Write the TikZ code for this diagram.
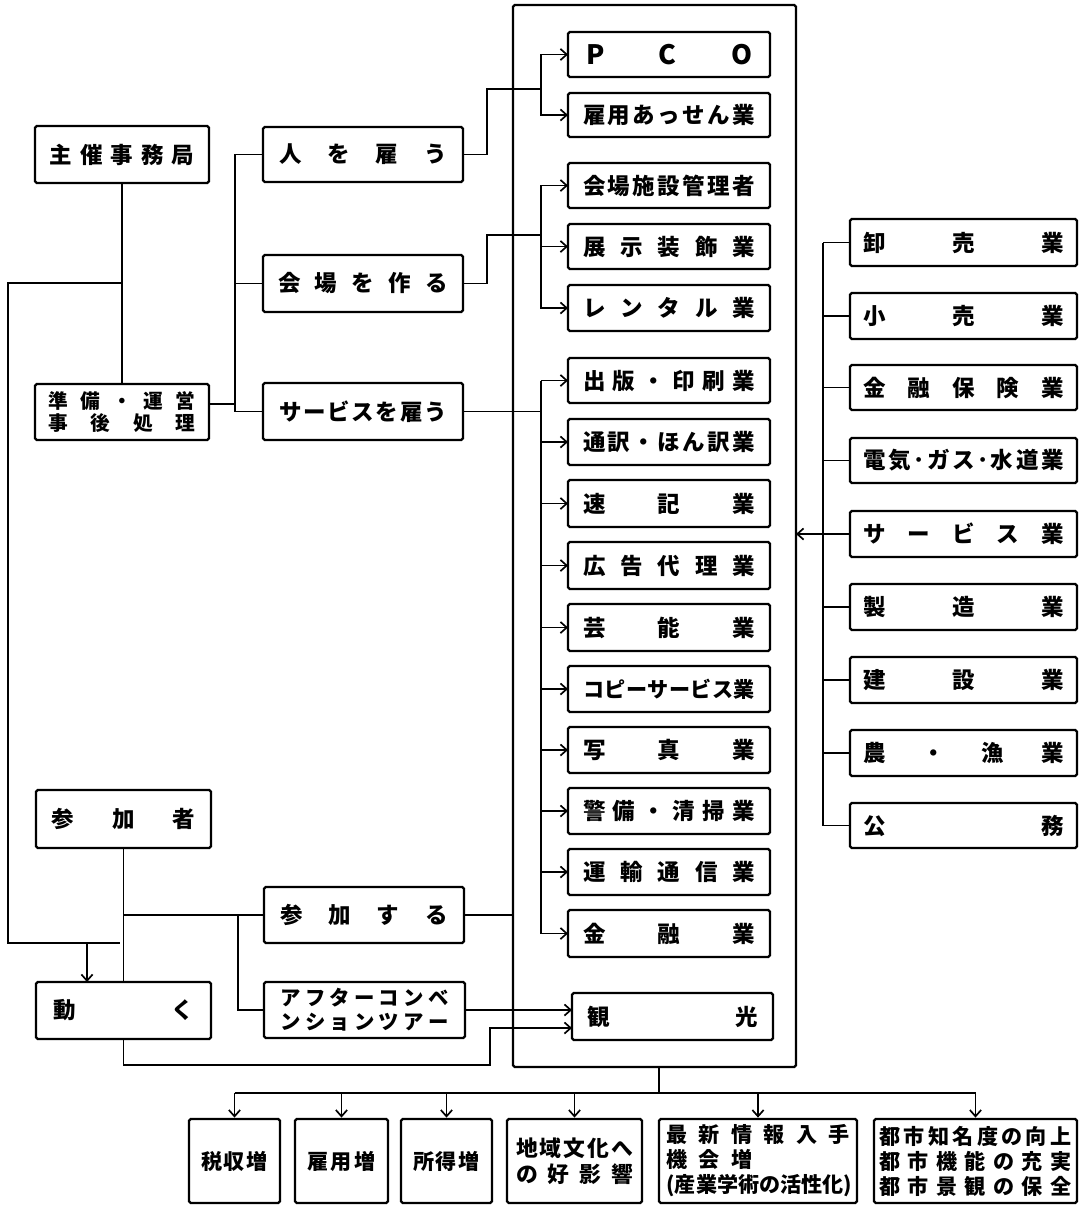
\documentclass[tikz,border=0pt]{standalone}
\usepackage{fontspec}
\setmainfont{Noto Sans CJK JP}
\usetikzlibrary{arrows.meta,calc}
\newdimen\pxu \pxu=0.025cm
\newcommand\spr[2]{\hbox to #1\pxu{#2}}
\newcommand\bx[7][]{\node[box,minimum width={(#5-#3)*0.025cm},minimum height={(#6-#4)*0.025cm},#1] (#2) at ({(#3+#5)/2},{(#4+#6)/2}) {#7};}
\tikzset{
  box/.style={draw, line width=1.6pt, rounded corners=1.2pt, inner sep=0pt, outer sep=0pt, align=center, font=\fontsize{16}{19}\selectfont\bfseries},
  two/.style={font=\fontsize{14}{15.5}\selectfont\bfseries},
  low/.style={font=\fontsize{15}{17.8}\selectfont\bfseries},
  ln/.style={line width=1.35pt},
  arr/.style={ln, -{Straight Barb[length=4.5pt,width=8pt,line width=1.2pt]}},
}
\begin{document}
\begin{tikzpicture}[x=0.025cm,y=-0.025cm]
\useasboundingbox (0,0) rectangle (1079,1205);
% left column
\bx{zs}{35}{126}{209}{183}{\spr{145}{主\hfill 催\hfill 事\hfill 務\hfill 局}}
\bx[two]{jb}{35}{384}{209}{440}{\spr{147}{準\hfill 備\hfill ・\hfill 運\hfill 営}\\\spr{147}{事\hfill 後\hfill 処\hfill 理}}
\bx{hito}{263}{127}{463}{182}{\spr{168}{人\hfill を\hfill 雇\hfill う}}
\bx{kaijo}{263}{255}{463}{312}{\spr{170}{会\hfill 場\hfill を\hfill 作\hfill る}}
\bx{serv}{263}{383}{463}{440}{\spr{168}{サ\hfill ー\hfill ビ\hfill ス\hfill を\hfill 雇\hfill う}}
\bx{snk}{36}{790}{211}{848}{\spr{143}{参\hfill 加\hfill 者}}
\bx{ugoku}{36}{982}{211}{1039}{\spr{140}{動\hfill く}}
\bx{sanka}{264}{887}{464}{943}{\spr{168}{参\hfill 加\hfill す\hfill る}}
\bx[font=\fontsize{14.5}{17}\selectfont\bfseries]{after}{264}{982}{465}{1038}{\spr{168}{ア\hfill フ\hfill タ\hfill ー\hfill コ\hfill ン\hfill ベ}\\\spr{168}{ン\hfill シ\hfill ョ\hfill ン\hfill ツ\hfill ア\hfill ー}}
% big box
\bx{big}{513}{5}{796}{1067}{}
% inner boxes
\bx[font=\fontsize{19}{20}\selectfont\bfseries]{pco}{568}{32}{770}{77}{\spr{166}{P\hfill C\hfill O}}
\bx{koyo}{568}{93}{770}{137}{\spr{172}{雇\hfill 用\hfill あ\hfill っ\hfill せ\hfill ん\hfill 業}}
\bx{kanri}{568}{163}{770}{208}{\spr{172}{会\hfill 場\hfill 施\hfill 設\hfill 管\hfill 理\hfill 者}}
\bx{tenji}{568}{224}{770}{269}{\spr{172}{展\hfill 示\hfill 装\hfill 飾\hfill 業}}
\bx{rental}{568}{285}{770}{331}{\spr{172}{レ\hfill ン\hfill タ\hfill ル\hfill 業}}
\bx{shup}{568}{358}{770}{403}{\spr{172}{出\hfill 版\hfill ・\hfill 印\hfill 刷\hfill 業}}
\bx{tsuy}{568}{419}{770}{465}{\spr{172}{通\hfill 訳\hfill ・\hfill ほ\hfill ん\hfill 訳\hfill 業}}
\bx{sokki}{568}{480}{770}{527}{\spr{172}{速\hfill 記\hfill 業}}
\bx{koukoku}{568}{542}{770}{589}{\spr{172}{広\hfill 告\hfill 代\hfill 理\hfill 業}}
\bx{geino}{568}{604}{770}{651}{\spr{172}{芸\hfill 能\hfill 業}}
\bx[low]{copy}{568}{666}{770}{712}{\spr{172}{コ\hfill ピ\hfill ー\hfill サ\hfill ー\hfill ビ\hfill ス\hfill 業}}
\bx{shashin}{568}{727}{770}{773}{\spr{172}{写\hfill 真\hfill 業}}
\bx{keibi}{568}{788}{770}{834}{\spr{172}{警\hfill 備\hfill ・\hfill 清\hfill 掃\hfill 業}}
\bx{unyu}{568}{849}{770}{895}{\spr{172}{運\hfill 輸\hfill 通\hfill 信\hfill 業}}
\bx{kinyu}{568}{910}{770}{957}{\spr{172}{金\hfill 融\hfill 業}}
\bx{kanko}{572}{993}{773}{1040}{\spr{171}{観\hfill 光}}
% right column
\bx{oroshi}{850}{219}{1077}{266}{\spr{200}{卸\hfill 売\hfill 業}}
\bx{kouri}{850}{293}{1077}{339}{\spr{200}{小\hfill 売\hfill 業}}
\bx{kinho}{850}{365}{1077}{410}{\spr{200}{金\hfill 融\hfill 保\hfill 険\hfill 業}}
\bx{denki}{850}{438}{1077}{483}{\spr{200}{電\hfill 気\hfill ･\hfill ガ\hfill ス\hfill ･\hfill 水\hfill 道\hfill 業}}
\bx{servg}{850}{511}{1077}{557}{\spr{200}{サ\hfill ー\hfill ビ\hfill ス\hfill 業}}
\bx{seizo}{850}{584}{1077}{630}{\spr{200}{製\hfill 造\hfill 業}}
\bx{kensetsu}{850}{657}{1077}{703}{\spr{200}{建\hfill 設\hfill 業}}
\bx{nougyo}{850}{730}{1077}{776}{\spr{200}{農\hfill ・\hfill 漁\hfill 業}}
\bx{koumu}{850}{803}{1077}{848}{\spr{200}{公\hfill 務}}
% bottom boxes
\bx[low]{zeishu}{189}{1119}{280}{1203}{\spr{66}{税\hfill 収\hfill 増}}
\bx[low]{koyozo}{295}{1119}{388}{1203}{\spr{69}{雇\hfill 用\hfill 増}}
\bx[low]{shotoku}{401}{1119}{492}{1203}{\spr{66}{所\hfill 得\hfill 増}}
\bx[font=\fontsize{15.5}{18.5}\selectfont\bfseries]{chiiki}{507}{1119}{642}{1203}{\spr{117}{地\hfill 域\hfill 文\hfill 化\hfill へ}\\\spr{117}{の\hfill 好\hfill 影\hfill 響}}
\bx[low]{saishin}{659}{1119}{857}{1203}{\spr{183}{最\hfill 新\hfill 情\hfill 報\hfill 入\hfill 手}\\\spr{183}{機\hfill 会\hfill 増\hfill\phantom{報}\hfill\phantom{入}\hfill\phantom{手}}\\\spr{183}{(\hfil 産\hfil 業\hfil 学\hfil 術\hfil の\hfil 活\hfil 性\hfil 化\hfil )}}
\bx[low]{toshi}{874}{1119}{1077}{1203}{\spr{192}{都\hfill 市\hfill 知\hfill 名\hfill 度\hfill の\hfill 向\hfill 上}\\\spr{192}{都\hfill 市\hfill 機\hfill 能\hfill の\hfill 充\hfill 実}\\\spr{192}{都\hfill 市\hfill 景\hfill 観\hfill の\hfill 保\hfill 全}}
% ---------- connectors ----------
\draw[ln] (zs) -- (jb);
\coordinate (j1) at (122,283);
\coordinate (e1) at (120,943);
\draw[ln] (j1) -- (8,283) -- (8,943) -- (e1);
\coordinate (a1) at (87,943);
\draw[arr] (a1) -- (a1 |- ugoku.north);
\draw[ln] (snk) -- (ugoku);
\coordinate (j3) at (124,915);
\draw[ln] (j3) -- (sanka.west);
\coordinate (j4) at (238,915);
\draw[ln] (j4) |- (after.west);
\draw[ln] (sanka.east) -- (sanka.east -| big.west);
\coordinate (b1) at (490,1028);
\draw[arr] (ugoku.south) -- ++(0,26) -| (b1) -- (b1 -| kanko.west);
\draw[arr] (after.east) -- (after.east -| kanko.west);
% left spine
\coordinate (sp) at (235,0);
\draw[ln] (hito.west) -- (hito.west -| sp) -- (serv.west -| sp) -- (serv.west);
\draw[ln] (kaijo.west) -- (kaijo.west -| sp);
\draw[ln] ($(jb.east)+(0,-8)$) -- ($(jb.east -| sp)+(0,-8)$);
% into big box
\coordinate (mx) at (487,0);
\coordinate (g1) at (541,89);
\draw[ln] (hito.east) -- (hito.east -| mx) |- (g1);
\draw[arr] (g1) |- (pco.west);
\draw[arr] (g1) |- (koyo.west);
\coordinate (g2) at (541,235);
\draw[ln] (kaijo.east) -- (kaijo.east -| mx) |- (g2);
\foreach \n in {kanri,tenji,rental} \draw[arr] (g2) |- (\n.west);
\coordinate (rs) at (541,0);
\coordinate (g3) at (serv.east -| rs);
\draw[ln] (serv.east) -- (g3);
\draw[ln] (shup.west -| rs) -- (kinyu.west -| rs);
\foreach \n in {shup,tsuy,sokki,koukoku,geino,copy,shashin,keibi,unyu,kinyu} \draw[arr] (\n.west -| rs) -- (\n.west);
% right spine
\coordinate (rsp) at (823,0);
\draw[ln] (oroshi.west -| rsp) -- (koumu.west -| rsp);
\foreach \n in {oroshi,kouri,kinho,denki,servg,seizo,kensetsu,nougyo,koumu} \draw[ln] (\n.west) -- (\n.west -| rsp);
\draw[arr] (servg.west -| rsp) -- (servg.west -| big.east);
% bottom
\coordinate (h) at (659,1093);
\draw[ln] (h |- big.south) -- (h);
\draw[ln] (zeishu.north |- h) -- (toshi.north |- h);
\foreach \n in {zeishu,koyozo,shotoku,chiiki,saishin,toshi} \draw[arr,shorten >=1pt] (\n.north |- h) -- (\n.north);
\end{tikzpicture}
\end{document}
